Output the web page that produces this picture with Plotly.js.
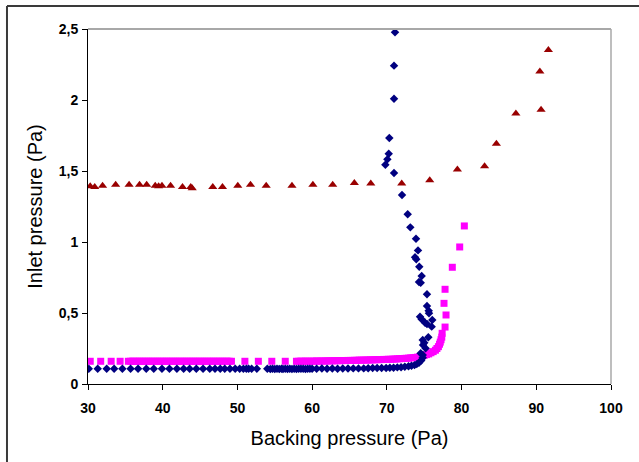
<!DOCTYPE html>
<html>
<head>
<meta charset="utf-8">
<script src="https://cdn.plot.ly/plotly-3.0.1.min.js"></script>
<style>
  html, body { margin: 0; padding: 0; background: #ffffff; }
  #chart { width: 639px; height: 462px; }
</style>
</head>
<body>
<div id="chart"></div>
<script>
// ---- Data ----
// Series 1: dark-blue diamonds
const blueX = [30.1, 31.3, 32.5, 33.5, 34.6, 35.7, 36.7, 37.8, 38.8, 39.9, 40.9, 41.9, 42.8, 43.6, 44.5, 45.4, 46.3, 47.0, 47.7, 48.3, 49.0, 49.7, 50.3, 50.8, 51.2, 51.5, 51.9, 52.6,
  54.0, 54.4, 54.7, 55.0, 55.3, 55.6, 55.9, 56.1, 56.4, 56.7, 57.0, 57.3, 57.6, 57.9, 58.2, 58.5, 58.8, 59.1, 59.4, 59.7, 60.0,
  60.6, 61.3, 62.0, 62.7, 63.4, 64.1, 64.8, 65.5, 66.2, 66.9, 67.5, 68.1, 68.7, 69.3, 69.9, 70.4, 70.9, 71.4, 71.9, 72.4, 72.9, 73.3, 73.7, 74.0, 74.3, 74.6, 74.8,
  74.80, 74.53, 75.19, 74.84, 75.01, 74.80, 75.55, 76.00, 76.08, 75.37, 75.11, 74.66, 74.44, 75.64, 75.60, 75.37, 75.37, 74.53, 74.30, 74.66, 74.34, 73.94, 73.77, 74.17, 73.90, 73.14, 72.79, 72.03,
  70.96, 69.80, 70.07, 70.25, 70.33, 70.96, 70.96, 71.09];
const blueY = [0.108, 0.108, 0.108, 0.108, 0.108, 0.108, 0.108, 0.108, 0.108, 0.108, 0.108, 0.108, 0.108, 0.108, 0.108, 0.108, 0.108, 0.108, 0.108, 0.108, 0.108, 0.108, 0.108, 0.108, 0.108, 0.108, 0.108, 0.108,
  0.108, 0.106, 0.108, 0.106, 0.108, 0.105, 0.107, 0.105, 0.108, 0.106, 0.108, 0.106, 0.108, 0.106, 0.108, 0.107, 0.108, 0.106, 0.108, 0.107, 0.108,
  0.108, 0.109, 0.108, 0.109, 0.108, 0.109, 0.109, 0.110, 0.110, 0.110, 0.111, 0.112, 0.112, 0.113, 0.113, 0.114, 0.115, 0.117, 0.118, 0.121, 0.125, 0.128, 0.133, 0.140, 0.150, 0.165, 0.185,
  0.204, 0.216, 0.251, 0.275, 0.291, 0.310, 0.329, 0.404, 0.451, 0.423, 0.432, 0.456, 0.474, 0.498, 0.516, 0.549, 0.632, 0.713, 0.718, 0.761, 0.826, 0.878, 0.892, 0.941, 1.023, 1.103, 1.195, 1.331,
  1.486, 1.544, 1.582, 1.622, 1.732, 2.009, 2.242, 2.477];

// Series 2: magenta squares
const pinkX = [30.3, 31.7, 33.1, 34.3,
  35.4, 35.7, 36.0, 36.3, 36.6, 36.9, 37.2, 37.5, 37.8, 38.1, 38.4, 38.7, 39.0, 39.3, 39.6, 39.9, 40.2, 40.5, 40.8, 41.1, 41.4, 41.7, 42.0, 42.3, 42.6, 42.9, 43.2, 43.5, 43.8, 44.1, 44.4, 44.7, 45.0, 45.3, 45.6, 45.9, 46.2, 46.5, 46.8, 47.1, 47.4, 47.7, 48.0, 48.3, 48.6, 48.9, 49.2,
  51.0, 52.8, 54.6, 56.4,
  57.9, 58.2, 58.5, 58.8, 59.1, 59.4, 59.7, 60.0, 60.3, 60.6, 60.9, 61.2, 61.5, 61.8, 62.1, 62.4, 62.7, 63.0, 63.3, 63.6, 63.9, 64.2, 64.5, 64.8, 65.1, 65.4, 65.7, 66.0, 66.3, 66.6, 66.9, 67.2, 67.5, 67.8, 68.1, 68.4, 68.7, 69.0, 69.3, 69.6, 69.9, 70.2, 70.5, 70.8, 71.1, 71.4, 71.7, 72.0, 72.3, 72.6, 72.9, 73.2, 73.5, 73.8, 74.1,
  74.4, 74.7, 75.0, 75.3, 75.6, 75.9, 76.2, 76.5, 76.7, 76.9, 77.05, 77.15, 77.25, 77.35, 77.4,
  77.79, 77.92, 77.65, 77.79, 78.76, 79.75, 80.37];
const pinkY = [0.160, 0.160, 0.160, 0.160,
  0.160, 0.160, 0.161, 0.160, 0.160, 0.161, 0.160, 0.160, 0.161, 0.160, 0.160, 0.161, 0.160, 0.160, 0.161, 0.160, 0.160, 0.161, 0.160, 0.160, 0.161, 0.160, 0.160, 0.161, 0.160, 0.160, 0.161, 0.160, 0.160, 0.161, 0.160, 0.160, 0.161, 0.160, 0.160, 0.161, 0.160, 0.160, 0.161, 0.160, 0.160, 0.161, 0.160, 0.160, 0.161, 0.160, 0.160,
  0.160, 0.160, 0.160, 0.160,
  0.160, 0.160, 0.161, 0.160, 0.161, 0.161, 0.160, 0.161, 0.161, 0.162, 0.161, 0.162, 0.162, 0.162, 0.163, 0.163, 0.163, 0.164, 0.164, 0.164, 0.165, 0.165, 0.165, 0.166, 0.166, 0.166, 0.167, 0.167, 0.168, 0.168, 0.168, 0.169, 0.169, 0.170, 0.170, 0.171, 0.171, 0.172, 0.172, 0.173, 0.173, 0.174, 0.174, 0.175, 0.176, 0.177, 0.178, 0.179, 0.180, 0.181, 0.182, 0.184, 0.185, 0.187, 0.189,
  0.193, 0.197, 0.202, 0.207, 0.212, 0.220, 0.228, 0.238, 0.250, 0.263, 0.280, 0.295, 0.312, 0.330, 0.357,
  0.401, 0.486, 0.568, 0.667, 0.822, 0.965, 1.113];

// Series 3: dark-red triangles
const redX = [30.3, 30.9, 31.95, 33.7, 35.5, 36.9, 37.85, 39.0, 39.45, 39.9, 41.05, 42.65, 43.75, 43.95, 46.7, 48.0, 50.05, 51.75, 53.85, 57.3, 60.1, 62.75, 65.65, 67.85, 71.99, 75.74, 79.44, 83.08, 84.66, 87.27, 90.48, 90.64, 91.62];
const redY = [1.393, 1.388, 1.397, 1.404, 1.404, 1.404, 1.404, 1.397, 1.393, 1.397, 1.397, 1.388, 1.388, 1.379, 1.388, 1.388, 1.397, 1.404, 1.397, 1.397, 1.404, 1.404, 1.416, 1.412, 1.412, 1.435, 1.510, 1.533, 1.692, 1.905, 2.200, 1.931, 2.352];

// Axis ticks
const xTickVals = [30, 40, 50, 60, 70, 80, 90, 100];
const yTickVals = [0, 0.5, 1, 1.5, 2, 2.5];
const yTickText = ["0", "0,5", "1", "1,5", "2", "2,5"];

const xTitle = "Backing pressure (Pa)";
const yTitle = "Inlet pressure (Pa)";

const FONT = "Liberation Sans, Arial, sans-serif";

const traces = [
  { x: pinkX, y: pinkY, type: "scatter", mode: "markers", name: "s2", hoverinfo: "skip",
    marker: { symbol: "square", size: 7, color: "#ff00ff", line: { width: 0 } } },
  { x: redX, y: redY, type: "scatter", mode: "markers", name: "s3", hoverinfo: "skip",
    marker: { symbol: "triangle-up", size: 8, color: "#990000", line: { width: 0 } } },
  { x: blueX, y: blueY, type: "scatter", mode: "markers", name: "s1", hoverinfo: "skip",
    marker: { symbol: "diamond", size: 6.5, color: "#000080", line: { width: 0 } } }
];

const layout = {
  width: 639, height: 462,
  margin: { l: 88, r: 28, t: 29, b: 78, pad: 0 },
  paper_bgcolor: "#ffffff", plot_bgcolor: "#ffffff",
  showlegend: false,
  font: { family: FONT, color: "#000000" },
  xaxis: {
    range: [30, 100], tickmode: "array", tickvals: xTickVals,
    showgrid: false, zeroline: false,
    showline: true, linecolor: "#000000", linewidth: 1,
    ticks: "outside", ticklen: 5, tickcolor: "#000000", tickwidth: 1,
    ticklabelstandoff: 6,
    tickfont: { family: FONT, size: 14, color: "#000000", weight: "bold" },
    title: { text: xTitle, font: { family: FONT, size: 20, color: "#000000" }, standoff: 16 }
  },
  yaxis: {
    range: [0, 2.5], tickmode: "array", tickvals: yTickVals, ticktext: yTickText,
    showgrid: false, zeroline: false,
    showline: true, linecolor: "#000000", linewidth: 1,
    ticks: "outside", ticklen: 5, tickcolor: "#000000", tickwidth: 1,
    ticklabelstandoff: 1,
    tickfont: { family: FONT, size: 14, color: "#000000", weight: "bold" },
    title: { text: yTitle, font: { family: FONT, size: 20, color: "#000000" }, standoff: 10 }
  },
  shapes: [
    { type: "line", xref: "paper", yref: "paper", x0: 0, x1: 1, y0: 1, y1: 1, line: { color: "#a8a8a8", width: 2 } },
    { type: "line", xref: "paper", yref: "paper", x0: 1, x1: 1, y0: 0, y1: 1, line: { color: "#a8a8a8", width: 1.5 } },
    { type: "line", xref: "paper", yref: "paper", x0: -0.1549, x1: 1.06, y0: 1.0648, y1: 1.0648, line: { color: "#3a3a3a", width: 2 } },
    { type: "line", xref: "paper", yref: "paper", x0: -0.1549, x1: -0.1549, y0: -0.23, y1: 1.0648, line: { color: "#3a3a3a", width: 2 } }
  ]
};

Plotly.newPlot("chart", traces, layout, { staticPlot: true, displayModeBar: false });
</script>
</body>
</html>
